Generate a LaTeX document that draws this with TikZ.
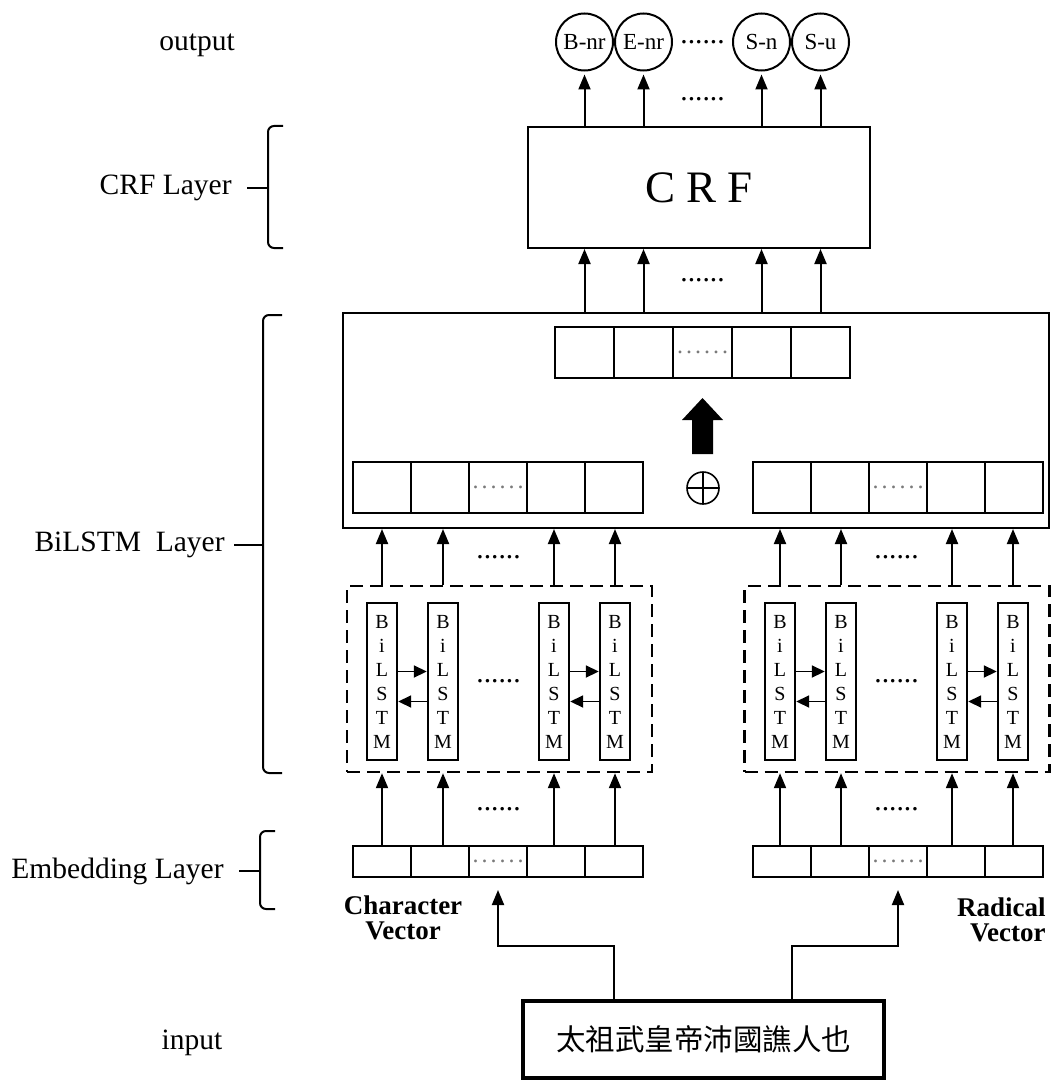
\documentclass[tikz,border=0pt]{standalone}
\usepackage{fontspec}
\setmainfont{Liberation Serif}
\newfontfamily\cjkfont{Noto Sans CJK TC}
\usetikzlibrary{
  arrows.meta,
  calc,
  positioning
}
\definecolor{Ink}{HTML}{000000}
\definecolor{DotGrey}{HTML}{7A7A7A}
\newcommand{\diagramlabelfont}{\fontsize{14.75}{17}\selectfont}
\newcommand{\diagramtagfont}{\fontsize{11.5}{13}\selectfont}
\newcommand{\diagramcrffont}{\fontsize{22.5}{26}\selectfont}
\newcommand{\diagramcellfont}{\fontsize{10}{12}\selectfont}
\newcommand{\diagramvecfont}{\bfseries\fontsize{13.5}{12.5}\selectfont}
\newcommand{\diagraminputfont}{\cjkfont\fontsize{14.75}{17}\selectfont}
\newcommand{\celldots}{.\kern1.5pt.\kern1.5pt.\kern1.5pt.\kern1.5pt.\kern1.5pt.}
\tikzset{
  % Global typography and reusable geometry (1 unit = 1 px of the sketch).
  every node/.style={font=\diagramlabelfont},
  layer box/.style={
    draw=Ink,
    line width=1pt,
    inner sep=0pt
  },
  group box/.style={
    draw=Ink,
    dash pattern=on 6.5pt off 3.5pt,
    line width=1.2pt,
    minimum width=152.5pt,
    minimum height=93pt,
    inner sep=0pt
  },
  vec cell/.style={
    draw=Ink,
    line width=1pt,
    minimum width=29pt,
    minimum height=#1,
    inner sep=0pt
  },
  vec cell/.default=15.5pt,
  lstm cell/.style={
    draw=Ink,
    line width=1.2pt,
    minimum width=15pt,
    minimum height=78.5pt,
    inner sep=0pt,
    align=center,
    font=\diagramcellfont
  },
  tag circle/.style={
    circle,
    draw=Ink,
    line width=1pt,
    minimum size=28.5pt,
    inner sep=0pt,
    font=\diagramtagfont
  },
  oplus/.style={
    circle,
    draw=Ink,
    line width=0.8pt,
    minimum size=16pt,
    inner sep=0pt,
    path picture={
      \draw[line width=0.8pt]
        (path picture bounding box.west) -- (path picture bounding box.east)
        (path picture bounding box.north) -- (path picture bounding box.south);
    }
  },
  flow/.style={
    -{Triangle[length=7.5pt,width=6pt]},
    draw=Ink,
    line width=1pt
  },
  side flow/.style={
    -{Triangle[length=6.5pt,width=6pt]},
    draw=Ink,
    line width=0.9pt
  },
  gap dots/.style={
    inner sep=0pt,
    font=\diagramlabelfont
  },
  cell dots/.style={
    inner sep=0pt,
    text=DotGrey,
    font=\fontsize{12}{12}\selectfont
  },
  layer label/.style={
    inner sep=0pt,
    font=\diagramlabelfont
  },
  vector label/.style={
    inner sep=0pt,
    align=center,
    font=\diagramvecfont
  },
  layer brace/.style={
    draw=Ink,
    line width=1pt,
    rounded corners=3pt
  }
}

\begin{document}
\begin{tikzpicture}[x=0.5pt,y=-0.5pt]
\useasboundingbox (0,0) rectangle (1051,1081);

% ---------------------------------------------------------------------------
% Layer containers
% ---------------------------------------------------------------------------
\node[layer box, minimum width=171pt, minimum height=60.5pt, font=\diagramcrffont]
  (crf) at (699,187.5) {C R F};
\node[layer box, minimum width=353pt, minimum height=107.5pt] (bilstm) at (696,420.5) {};
\node[group box] (charGroup) at (499.5,679) {};
\node[group box] (radGroup) at (897,679) {};
\node[layer box, line width=2pt, minimum width=180.5pt, minimum height=38.5pt,
  font=\diagraminputfont] (sentence) at (703.5,1039.5) {太祖武皇帝沛國譙人也};

% ---------------------------------------------------------------------------
% Vectors: merged output, BiLSTM outputs and embeddings
% ---------------------------------------------------------------------------
\foreach \i in {1,...,5}{
  \node[vec cell=25.5pt, minimum width=29.5pt] (mergeVec\i) at ({555+59*(\i-0.5)},352.5) {};
}
\node[cell dots] (mergeVec-dots) at (mergeVec3) {\celldots};

\foreach \vname/\xs/\ymid/\h in {charEmb/353/861.5/15.5pt, radEmb/753/861.5/15.5pt,
                                 charHid/353/487.5/25.5pt, radHid/753/487.5/25.5pt}{
  \foreach \i in {1,...,5}{
    \node[vec cell=\h] (\vname\i) at ({\xs+58*(\i-0.5)},\ymid) {};
  }
  \node[cell dots] (\vname-dots) at (\vname3) {\celldots};
}

% Concatenation and the bold merge arrow
\node[oplus] (concat) at (703,488) {};
\coordinate (mergeArrow) at (702.5,454);
\fill[Ink, shift={(mergeArrow)}]
  (-10.5,0) -- (10.5,0) -- (10.5,-34) -- (20.5,-34) -- (0,-56) -- (-20.5,-34) -- (-10.5,-34) -- cycle;

% ---------------------------------------------------------------------------
% BiLSTM units for both channels
% ---------------------------------------------------------------------------
\foreach \side/\dx in {char/0, rad/398}{
  \foreach \j/\x in {1/382, 2/443, 3/554, 4/615}{
    \node[lstm cell] (\side Lstm\j) at (\x+\dx,681.5) {B\\i\\L\\S\\T\\M};
  }
  \foreach \a/\b in {1/2, 3/4}{
    \draw[side flow] ([yshift=5pt]\side Lstm\a.east) -- ([yshift=5pt]\side Lstm\b.west);
    \draw[side flow] ([yshift=-10pt]\side Lstm\b.west) -- ([yshift=-10pt]\side Lstm\a.east);
  }
  \foreach \j in {1,...,4}{
    \draw[flow] (\side Lstm\j |- \side Emb1.north) -- (\side Lstm\j |- \side Group.south);
    \draw[flow] (\side Lstm\j |- \side Group.north) -- (\side Lstm\j |- bilstm.south);
  }
  \node[gap dots] (\side Group-dots) at ($(\side Lstm2)!0.5!(\side Lstm3)$) {......};
  \node[gap dots] (\side Up-dots)
    at ($(\side Lstm2 |- \side Group.north)!0.5!(\side Lstm3 |- bilstm.south)$) {......};
  \node[gap dots] (\side In-dots)
    at ($(\side Lstm2 |- \side Emb1.north)!0.5!(\side Lstm3 |- \side Group.south)$) {......};
}

% ---------------------------------------------------------------------------
% CRF and output tags
% ---------------------------------------------------------------------------
\coordinate (tagRow) at (0,42);
\foreach \name/\tagtext/\i in {tagB/B-nr/1, tagE/E-nr/2, tagSn/S-n/4, tagSu/S-u/5}{
  \node[tag circle] (\name) at (mergeVec\i |- tagRow) {\tagtext};
  \draw[flow, shorten >=1.5pt] (\name |- crf.north) -- (\name.south);
  \draw[flow] (\name |- bilstm.north) -- (\name |- crf.south);
}
\node[gap dots] (tagDots) at (mergeVec3 |- tagRow) {......};
\node[gap dots] (crfUpDots) at ($(mergeVec3 |- crf.north)!0.5!(mergeVec3 |- tagB.south)$) {......};
\node[gap dots] (crfInDots) at ($(mergeVec3 |- bilstm.north)!0.5!(mergeVec3 |- crf.south)$) {......};

% ---------------------------------------------------------------------------
% Input sentence feeding both embeddings
% ---------------------------------------------------------------------------
\coordinate (charTap) at (614,946);
\coordinate (radTap) at (792,946);
\draw[flow] (charTap |- sentence.north) -- (charTap) -| ([yshift=-6pt]charEmb3.south);
\draw[flow] (radTap |- sentence.north) -- (radTap) -| ([yshift=-6pt]radEmb3.south);

\node[vector label] (charLabel) at (403,918) {Character\\Vector};
\node[vector label, align=right, anchor=east] (radLabel) at (1046,920) {Radical\\Vector};

% ---------------------------------------------------------------------------
% Layer names with braces
% ---------------------------------------------------------------------------
\node[layer label] (outputLabel) at (197,45) {output};
\node[layer label] (inputLabel) at (192,1043) {input};

\coordinate (crfBrace) at (268,188);
\draw[layer brace] (283,126) -| (crfBrace) |- (283,248);
\node[layer label, left=18pt of crfBrace] (crfLabel) {CRF Layer};
\draw[layer brace] ([xshift=7.5pt]crfLabel.east) -- (crfBrace);

\coordinate (lstmBrace) at (263,545);
\draw[layer brace] (282,315) -| (lstmBrace) |- (282,773);
\node[layer label, left=19pt of lstmBrace] (lstmLabel) {BiLSTM\ \ Layer};
\draw[layer brace] ([xshift=4.5pt]lstmLabel.east) -- (lstmBrace);

\coordinate (embBrace) at (260,871);
\draw[layer brace] (275,831) -| (embBrace) |- (275,909);
\node[layer label, left=18pt of embBrace] (embLabel) {Embedding Layer};
\draw[layer brace] ([xshift=7.5pt]embLabel.east) -- (embBrace);

\end{tikzpicture}
\end{document}
